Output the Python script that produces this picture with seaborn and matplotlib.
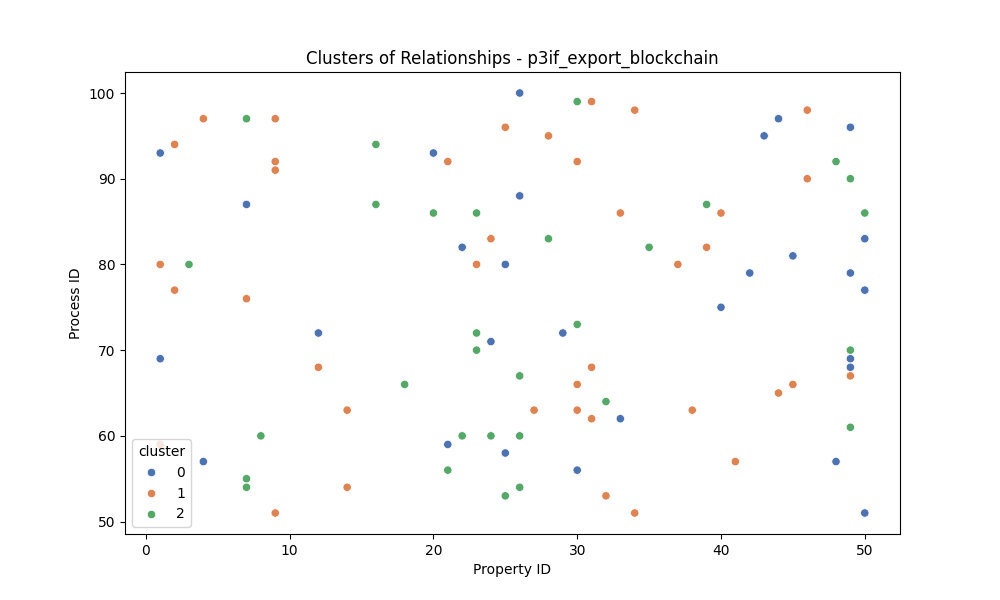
import pandas as pd
import matplotlib
matplotlib.use("Agg")
import matplotlib.pyplot as plt
import seaborn as sns

x0 = [1, 7, 1, 4, 12, 20, 22, 25, 26, 26, 24, 21, 25, 29, 30, 33, 40, 42, 43, 44, 45, 49, 49, 50, 50, 49, 49, 48, 50]
y0 = [93, 87, 69, 57, 72, 93, 82, 80, 88, 100, 71, 59, 58, 72, 56, 62, 75, 79, 95, 97, 81, 96, 79, 83, 77, 69, 68, 57, 51]

x1 = [1, 2, 2, 4, 9, 9, 9, 7, 1, 12, 14, 14, 9, 21, 23, 24, 25, 28, 30, 31, 34, 33, 27, 30, 31, 30, 31, 32, 34, 37, 39, 40, 38, 41, 44, 45, 46, 46, 49]
y1 = [80, 77, 94, 97, 97, 92, 91, 76, 59, 68, 63, 54, 51, 92, 80, 83, 96, 95, 92, 99, 98, 86, 63, 66, 68, 63, 62, 53, 51, 80, 82, 86, 63, 57, 65, 66, 90, 98, 67]

x2 = [3, 7, 7, 7, 8, 16, 16, 18, 20, 23, 23, 23, 22, 24, 21, 26, 26, 26, 25, 28, 30, 30, 32, 35, 39, 48, 49, 50, 49, 49]
y2 = [80, 97, 55, 54, 60, 94, 87, 66, 86, 86, 72, 70, 60, 60, 56, 67, 60, 54, 53, 83, 99, 73, 64, 82, 87, 92, 90, 86, 70, 61]

df = pd.DataFrame({
    "property_id": x0 + x1 + x2,
    "process_id": y0 + y1 + y2,
    "cluster": [0] * len(x0) + [1] * len(x1) + [2] * len(x2),
})

plt.figure(figsize=(10, 6))
sns.scatterplot(data=df, x="property_id", y="process_id", hue="cluster", palette="deep")
plt.title("Clusters of Relationships - p3if_export_blockchain")
plt.xlabel("Property ID")
plt.ylabel("Process ID")
plt.legend(title="cluster", loc="lower left")
plt.savefig("out.png", dpi=100)
